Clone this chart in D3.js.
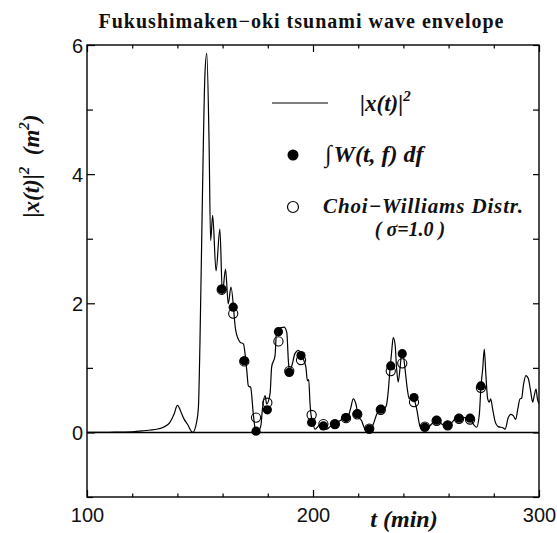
<!DOCTYPE html>
<html>
<head>
<meta charset="utf-8">
<script src="https://cdn.jsdelivr.net/npm/d3@7"></script>
<style>
  html, body { margin: 0; padding: 0; background: #fff; }
  svg { display: block; }
  .serif { font-family: "Liberation Serif", "Times New Roman", serif; }
  .sans { font-family: "Liberation Sans", Arial, sans-serif; }
</style>
</head>
<body>
<svg id="chart" width="557" height="533"></svg>
<script>
// Squared tsunami amplitude |x(t)|^2 (m^2) against time (min)
const curveTime = [100, 110, 120, 126, 130, 133.8, 136.7, 138.5, 140.0, 142.0, 142.9, 144.4, 146.8, 148.5, 149.3,
  150.0, 151.0, 152.2, 153.0, 154.0, 154.7, 155.6, 157.1, 158.8, 159.9, 161.3, 162.5, 163.7, 165.8, 167.7,
  169.2, 170.7, 171.4, 172.4, 173.6, 174.3, 175.4, 176.9, 177.7, 178.8, 179.5, 181.0, 181.7, 183.2, 183.9,
  187.2, 188.4, 189.1, 189.5, 190.6, 192.0, 193.5, 196.0, 196.9, 197.5, 198.1, 198.7, 199.1, 199.9, 200.9,
  201.9, 203.1, 204.9, 206.1, 207.5, 209.7, 212.7, 215.6, 216.7, 217.8, 219.0, 220.0, 221.5, 222.6, 223.8,
  225.2, 226.7, 228.2, 230.4, 231.9, 232.6, 233.3, 234.1, 234.8, 235.5, 236.3, 237.0, 237.7, 238.5, 239.2,
  240.0, 240.7, 241.7, 242.6, 243.7, 244.7, 245.9, 247.3, 248.8, 250.3, 252.5, 254.7, 256.9, 259.2, 261.4,
  263.6, 266.5, 269.5, 270.9, 272.4, 273.6, 274.3, 275.1, 275.8, 276.5, 277.3, 278.0, 278.6, 279.5, 280.5,
  282.0, 284.2, 285.0, 286.4, 287.5, 288.6, 289.7, 290.6, 291.6, 292.3, 293.1, 294.2, 295.3, 296.3, 297.2,
  297.9, 298.7, 299.3, 300];
const curveValue = [0, 0.003, 0.01, 0.03, 0.045, 0.08, 0.155, 0.28, 0.42, 0.28, 0.21, 0.13, 0.0, 0.16, 0.39,
  1.42, 3.5, 5.56, 5.87, 4.52, 2.97, 3.36, 2.5, 3.15, 2.15, 2.53, 1.99, 2.25, 1.58, 1.40,
  1.37, 0.96, 0.72, 0.70, 0.28, 0.08, 0.0, 0.1, 0.39, 0.57, 0.44, 0.6, 1.01, 1.19, 1.58,
  1.63, 1.55, 1.11, 0.97, 1.03, 1.22, 1.27, 1.11, 1.0, 0.8, 0.82, 0.44, 0.28, 0.155, 0.05,
  0.08, 0.12, 0.10, 0.05, 0.09, 0.13, 0.2, 0.25, 0.38, 0.52, 0.44, 0.26, 0.18, 0.08, 0.01,
  0.02, 0.13, 0.28, 0.37, 0.38, 0.44, 0.64, 0.99, 1.25, 1.47, 1.37, 0.99, 0.78, 0.99, 1.21,
  1.18, 0.99, 0.68, 0.52, 0.57, 0.52, 0.36, 0.1, 0.03, 0.05, 0.13, 0.2, 0.13, 0.1, 0.15,
  0.23, 0.23, 0.23, 0.13, 0.08, 0.28, 0.7, 0.99, 1.29, 0.89, 0.52, 0.47, 0.52, 0.36, 0.18,
  0.09, 0.07, 0.05, 0.23, 0.28, 0.26, 0.2, 0.36, 0.52, 0.53, 0.73, 0.88, 0.83, 0.64, 0.47,
  0.57, 0.67, 0.52, 0.45];

// Sample times of the time-frequency estimates
const sampleTime = [159.6, 164.7, 169.6, 174.8, 179.8, 184.7, 189.5, 194.7, 199.4, 204.6, 209.7, 214.6,
  219.6, 224.9, 230.0, 234.4, 239.5, 244.7, 249.5, 254.7, 259.6, 264.6, 269.5, 274.3];
// Marginal of the Wigner distribution, ∫W(t,f)df
const wignerValue = [2.22, 1.94, 1.11, 0.02, 0.35, 1.56, 0.93, 1.19, 0.155, 0.10, 0.13, 0.23,
  0.29, 0.05, 0.36, 1.03, 1.22, 0.54, 0.08, 0.19, 0.11, 0.22, 0.22, 0.72];
// Marginal of the Choi-Williams distribution (sigma = 1.0)
const choiValue = [2.21, 1.84, 1.10, 0.23, 0.46, 1.41, 0.95, 1.12, 0.27, 0.13, 0.13, 0.22,
  0.28, 0.06, 0.35, 0.95, 1.07, 0.47, 0.09, 0.18, 0.11, 0.21, 0.20, 0.69];

const xMajorTicks = [100, 200, 300];
const xMinorTicks = [120, 140, 160, 180, 220, 240, 260, 280];
const yMajorTicks = [0, 2, 4, 6];
const yMinorTicks = [-1, 1, 3, 5];

const svg = d3.select("#chart");
const plot = { left: 87, right: 539, top: 45, bottom: 497 };

const x = d3.scaleLinear().domain([100, 300]).range([plot.left, plot.right]);
const y = d3.scaleLinear().domain([-1, 6]).range([plot.bottom, plot.top]);

svg.append("rect").attr("width", 557).attr("height", 533).attr("fill", "#fff");

// inward ticks on all four sides
function tickAxis(axisFn, scale, values, size, transform, withLabels) {
  const ax = axisFn(scale).tickValues(values).tickSizeInner(-size).tickSizeOuter(0)
    .tickPadding(withLabels ? 10 : 0)
    .tickFormat(withLabels ? d3.format("d") : "");
  const g = svg.append("g").attr("transform", transform).call(ax);
  g.select(".domain").remove();
  g.selectAll(".tick line").attr("stroke", "#000").attr("stroke-width", 1.2);
  return g;
}
tickAxis(d3.axisBottom, x, xMinorTicks, 3.5, `translate(0,${plot.bottom})`, false);
tickAxis(d3.axisTop, x, xMinorTicks, 3.5, `translate(0,${plot.top})`, false);
tickAxis(d3.axisTop, x, xMajorTicks, 7, `translate(0,${plot.top})`, false);
const gxb = tickAxis(d3.axisBottom, x, xMajorTicks, 7, `translate(0,${plot.bottom})`, true);
gxb.selectAll(".tick text").attr("class", "sans").attr("font-size", 20).attr("fill", "#111")
  .attr("y", 0).attr("dy", 0).attr("transform", "translate(0,25)");

tickAxis(d3.axisLeft, y, yMinorTicks, 6, `translate(${plot.left},0)`, false);
const gyl = tickAxis(d3.axisLeft, y, yMajorTicks, 8, `translate(${plot.left},0)`, true);
gyl.selectAll(".tick text").attr("class", "sans").attr("font-size", 20).attr("fill", "#111")
  .attr("x", -4).attr("dy", "0.36em");
tickAxis(d3.axisRight, y, yMinorTicks.concat(yMajorTicks), 6, `translate(${plot.right},0)`, false);

// zero reference line
svg.append("line")
  .attr("x1", plot.left).attr("x2", plot.right)
  .attr("y1", y(0)).attr("y2", y(0))
  .attr("stroke", "#000").attr("stroke-width", 1.6);

// frame
svg.append("rect")
  .attr("x", plot.left).attr("y", plot.top)
  .attr("width", plot.right - plot.left).attr("height", plot.bottom - plot.top)
  .attr("fill", "none").attr("stroke", "#000").attr("stroke-width", 1.4);

// envelope curve
const curvePts = curveTime.map((t, i) => [t, curveValue[i]]);
svg.append("path")
  .datum(curvePts)
  .attr("fill", "none").attr("stroke", "#000").attr("stroke-width", 1.2)
  .attr("d", d3.line().x(d => x(d[0])).y(d => y(d[1])).curve(d3.curveMonotoneX));

// Choi-Williams marginal (open circles)
svg.append("g").selectAll("circle")
  .data(sampleTime.map((t, i) => [t, choiValue[i]]))
  .join("circle")
  .attr("cx", d => x(d[0])).attr("cy", d => y(d[1])).attr("r", 4.6)
  .attr("fill", "none").attr("stroke", "#000").attr("stroke-width", 1.1);

// Wigner marginal (filled circles)
svg.append("g").selectAll("circle")
  .data(sampleTime.map((t, i) => [t, wignerValue[i]]))
  .join("circle")
  .attr("cx", d => x(d[0])).attr("cy", d => y(d[1])).attr("r", 4.6)
  .attr("fill", "#000");

// title
svg.append("text").attr("class", "serif")
  .attr("x", 301).attr("y", 28).attr("text-anchor", "middle")
  .attr("font-size", 20).attr("font-weight", "bold").attr("fill", "#111")
  .attr("textLength", 405).attr("lengthAdjust", "spacing")
  .text("Fukushimaken\u2212oki tsunami wave envelope");

// axis titles
svg.append("text").attr("class", "serif")
  .attr("x", 404).attr("y", 527).attr("text-anchor", "middle")
  .attr("font-size", 24).attr("font-weight", "bold").attr("font-style", "italic").attr("fill", "#111")
  .text("t (min)");

const yt = svg.append("text").attr("class", "serif")
  .attr("transform", "translate(39,166) rotate(-90)")
  .attr("text-anchor", "middle")
  .attr("font-size", 23).attr("font-weight", "bold").attr("font-style", "italic").attr("fill", "#111");
yt.append("tspan").text("|x(t)|");
yt.append("tspan").attr("dy", -10).attr("font-size", 15).text("2");
yt.append("tspan").attr("dy", 10).text("\u2002(m");
yt.append("tspan").attr("dy", -10).attr("font-size", 15).text("2");
yt.append("tspan").attr("dy", 10).text(")");

// legend
const legend = svg.append("g").attr("class", "serif").attr("font-weight", "bold")
  .attr("font-style", "italic").attr("fill", "#111");
legend.append("line").attr("x1", 272).attr("x2", 328).attr("y1", 103).attr("y2", 103)
  .attr("stroke", "#000").attr("stroke-width", 1.2);
const l1 = legend.append("text").attr("x", 360).attr("y", 111).attr("font-size", 23);
l1.append("tspan").text("|x(t)|");
l1.append("tspan").attr("dy", -10).attr("font-size", 15).text("2");

legend.append("circle").attr("cx", 293).attr("cy", 155).attr("r", 5.5).attr("fill", "#000");
const l2 = legend.append("text").attr("x", 325).attr("y", 162).attr("font-size", 24);
l2.append("tspan").text("\u222B");
l2.append("tspan").attr("dx", 2).text("W(t, f)");
l2.append("tspan").attr("dx", 6).text("df");

legend.append("circle").attr("cx", 293).attr("cy", 207).attr("r", 5.5)
  .attr("fill", "none").attr("stroke", "#000").attr("stroke-width", 1.2);
legend.append("text").attr("x", 323).attr("y", 213).attr("font-size", 21)
  .attr("textLength", 200).attr("lengthAdjust", "spacing")
  .text("Choi\u2212Williams Distr.");
legend.append("text").attr("x", 410).attr("y", 236).attr("font-size", 20).attr("text-anchor", "middle")
  .text("( \u03C3=1.0 )");
</script>
</body>
</html>
